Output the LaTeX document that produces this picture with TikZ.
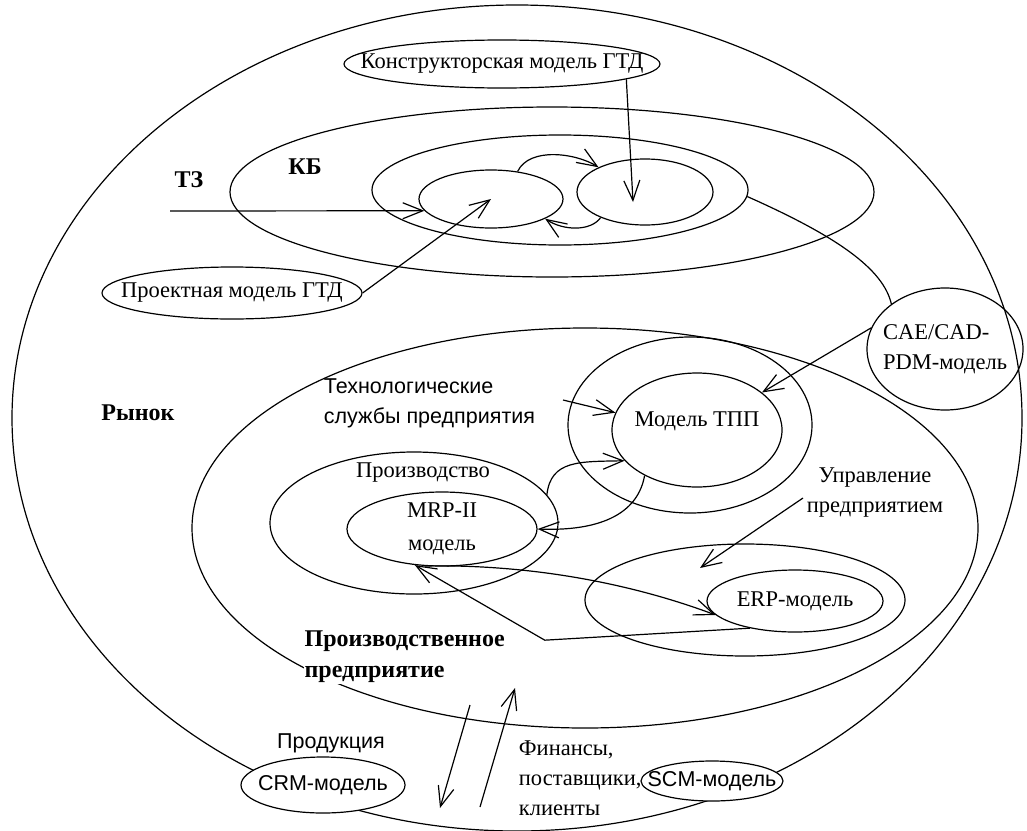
\documentclass[tikz,border=0pt]{standalone}
\usepackage{fontspec}
\setmainfont{Liberation Serif}
\setsansfont{Liberation Sans}
\usetikzlibrary{shapes.geometric,arrows.meta}

\begin{document}
\begin{tikzpicture}[x=1pt,y=-1pt,line width=1.2pt,
  font=\fontsize{22.5}{30}\selectfont,
  oval/.style={draw,ellipse,inner sep=0pt},
  woval/.style={oval,fill=white},
  arr/.style={-{Straight Barb[length=20pt,width=16pt]}},
  sf/.style={font=\fontsize{21.5}{30}\selectfont\sffamily},
  bf/.style={font=\fontsize{24}{31}\selectfont\bfseries}]
\useasboundingbox (0,0) rectangle (1027,830);

% market
\node[oval,minimum width=1010pt,minimum height=826pt] (mkt) at (517,418) {};
\node[bf] (mktl) at (138,413) {Рынок};

% KB
\node[oval,minimum width=644pt,minimum height=170pt] (kb) at (552,192) {};
\node[oval,minimum width=376pt,minimum height=110pt] (kbm) at (560,190) {};
\node[oval,minimum width=144pt,minimum height=58pt] (inl) at (491,199) {};
\node[oval,minimum width=136pt,minimum height=66pt] (inr) at (645,192) {};
\node[bf] (tz) at (189,180) {ТЗ};
\node[bf] (kbl) at (305,167) {КБ};
\node[oval,minimum width=316pt,minimum height=48pt,
  label=center:Конструкторская модель ГТД] (konstr) at (502,64) {};
\node[oval,minimum width=260pt,minimum height=52pt,
  label=center:Проектная модель ГТД] (proekt) at (232,293) {};
\node[oval,minimum width=156pt,minimum height=122pt,
  label={[align=left]center:{CAE/CAD-\\PDM-модель}}] (cae) at (945,349) {};

% enterprise
\node[oval,minimum width=786pt,minimum height=400pt] (ent) at (585,528) {};
\node[bf,fill=white,inner sep=1pt,align=left,anchor=west] (entl) at (303,657)
  {Производственное\\предприятие};
\node[oval,minimum width=244pt,minimum height=176pt] (tech) at (690,425) {};
\node[oval,minimum width=170pt,minimum height=114pt,
  label={[yshift=9pt]center:Модель ТПП}] (tpp) at (697,430) {};
\node[sf,align=left,anchor=west] (techl) at (320,403)
  {Технологические\\службы предприятия};
\node[oval,minimum width=288pt,minimum height=142pt] (proizv) at (414,523) {};
\node (proizvl) at (423,473) {Производство};
\node[oval,minimum width=190pt,minimum height=74pt,
  label={[align=center]center:{MRP-II\\[3pt]модель}}] (mrp) at (442,529) {};
\node[oval,minimum width=320pt,minimum height=112pt] (upr) at (745,600) {};
\node[oval,minimum width=176pt,minimum height=62pt,
  label=center:ERP-модель] (erp) at (795,601) {};
\node[align=center] (uprl) at (875,493) {Управление\\предприятием};

% bottom
\node[woval,minimum width=164pt,minimum height=56pt,
  label={[sf]center:CRM-модель}] (crm) at (323,785) {};
\node[sf] (prodl) at (331,743) {Продукция};
\node[woval,minimum width=142pt,minimum height=40pt,
  label={[sf]center:SCM-модель}] (scm) at (712,781) {};
\node[align=left,anchor=west] (finl) at (515,778) {Финансы,\\поставщики,\\клиенты};

\coordinate (tzs) at (170,211);
\coordinate (kt) at (633,202);
\coordinate (ts) at (563,400);
\coordinate (us) at (803,498);
\coordinate (ue) at (700,568);
\coordinate (d1) at (470,705);
\coordinate (d2) at (440,808);
\coordinate (f1) at (480,807);
\coordinate (f2) at (515,688);

\draw[arr] (tzs) -- (inl.190);
\draw[arr] (proekt.east) -- (inl.center);
\draw[arr] (konstr.353) -- (kt);
\draw[arr] (inl.46) .. controls +(12,-25) and +(-22,-14) .. (inr.152);
\draw[arr] (inr.210) .. controls +(-10,14) and +(18,12) .. (inl.340);
\draw (kbm.358) .. controls +(90,40) and +(-8,-35) .. (cae.140);
\draw[arr] (cae.164) -- (tpp.30);
\draw[arr] (ts) -- (tpp.168);
\draw[arr] (tpp.221) .. controls +(-8,45) and +(50,2) .. (mrp.east);
\draw[arr] (proizv.12) .. controls +(4,-35) and +(-45,1) .. (tpp.203);
\draw[arr] (us) -- (ue);
\draw[arr] (mrp.245) .. controls +(110,-2) and +(-80,-30) .. (erp.190);
\draw[arr] (erp.211) -- ++(-205,12) -- (mrp.233);
\draw[arr] (d1) -- (d2);
\draw[arr] (f1) -- (f2);

\end{tikzpicture}
\end{document}
